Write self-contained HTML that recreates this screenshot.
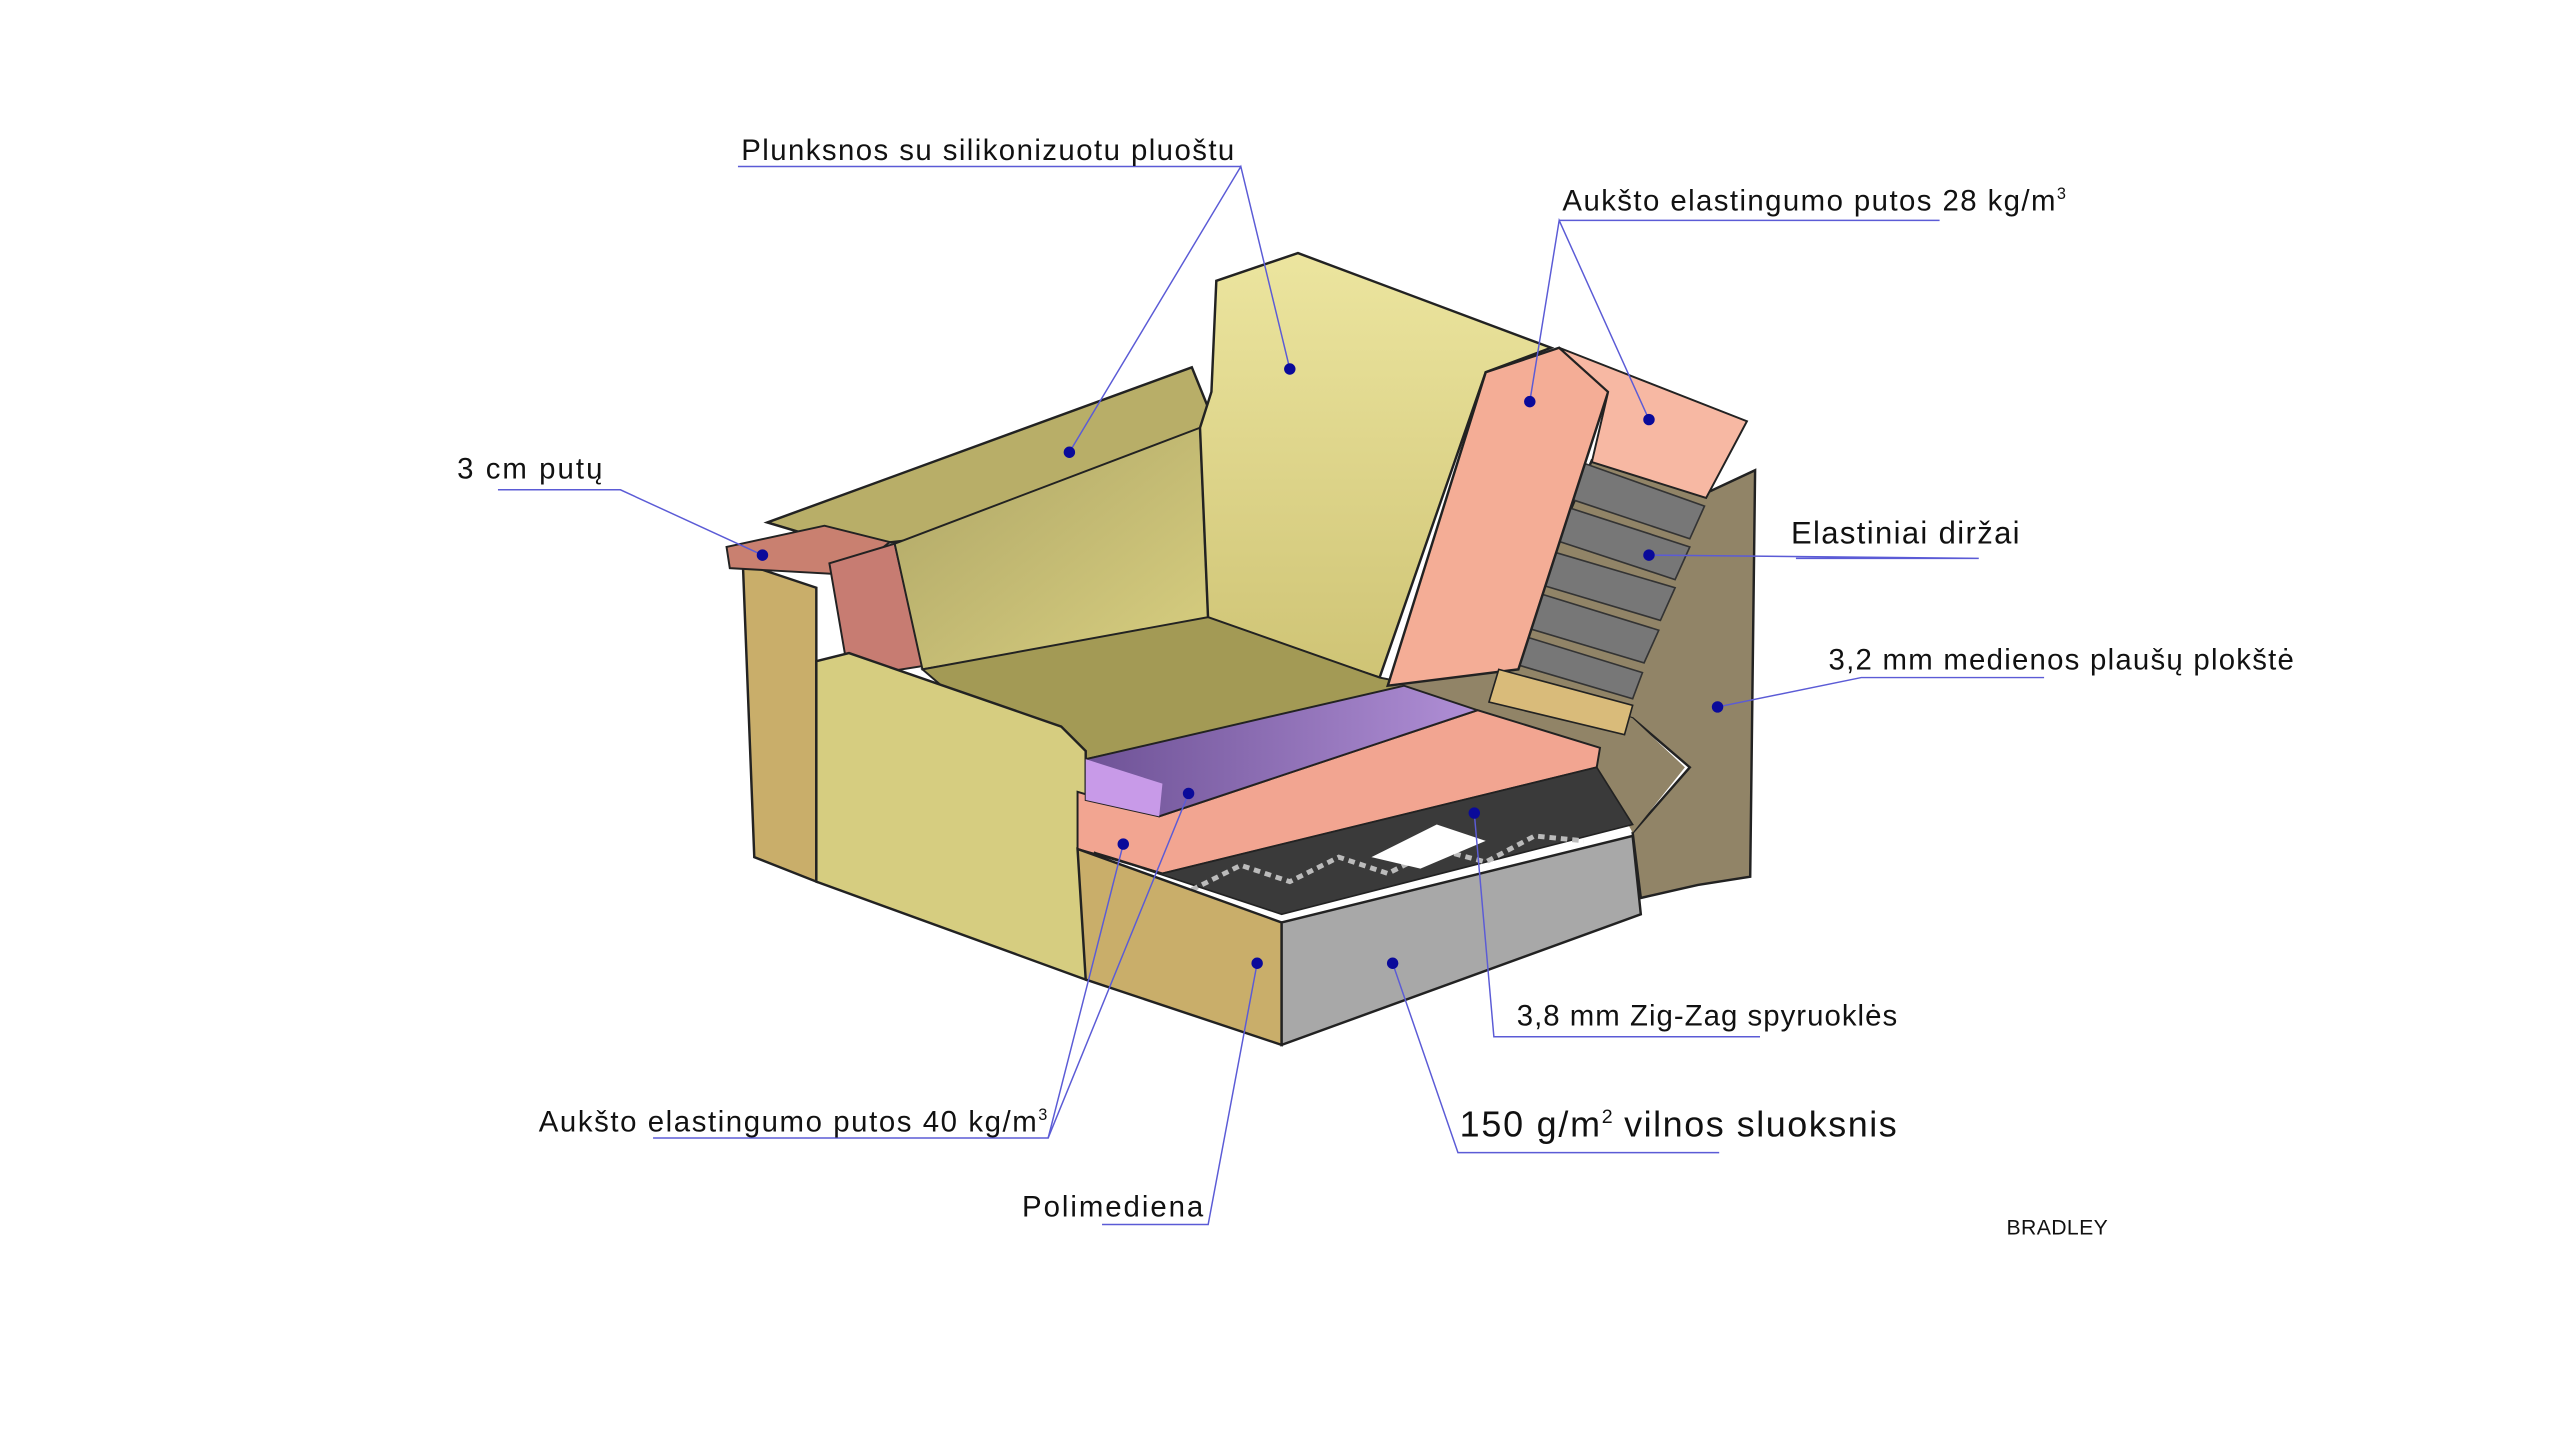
<!DOCTYPE html>
<html><head><meta charset="utf-8"><style>
html,body{margin:0;padding:0;background:#fff}
svg{display:block}
text{font-family:"Liberation Sans",sans-serif;fill:#111}
</style></head><body>
<svg width="2560" height="1440" viewBox="0 0 1568 882" xmlns="http://www.w3.org/2000/svg">
<defs>
<linearGradient id="yb" x1="0" y1="0" x2="0" y2="1"><stop offset="0" stop-color="#ece59f"/><stop offset="1" stop-color="#cfc475"/></linearGradient>
<linearGradient id="ys" x1="0" y1="0" x2="1" y2="1"><stop offset="0" stop-color="#aea566"/><stop offset="1" stop-color="#d8cf80"/></linearGradient>
<linearGradient id="pu" x1="0" y1="0" x2="1" y2="0"><stop offset="0" stop-color="#6e5296"/><stop offset="1" stop-color="#b08fd6"/></linearGradient>
</defs>
<polygon points="455,345 500,360 500,540 462,525" fill="#c9ae6a" stroke="#222" stroke-width="1.5"/>
<polygon points="470,320 730,225 745,262 565,330 520,335" fill="#b8ae68" stroke="#222" stroke-width="1.5"/>
<polygon points="445,335 505,322 545,332 520,352 447,348" fill="#c98070" stroke="#222" stroke-width="1.2"/>
<polygon points="508,345 548,333 565,408 520,415" fill="#c77c72" stroke="#222" stroke-width="1.2"/>
<polygon points="548,333 735,262 740,380 565,410" fill="url(#ys)" stroke="#222" stroke-width="1.2"/>
<polygon points="745,172 795,155 950,213 910,228 845,415 740,380 735,262 742,240" fill="url(#yb)" stroke="#222" stroke-width="1.5"/>
<polygon points="565,410 740,378 845,415 870,420 665,465 600,440" fill="#a39a55" stroke="#222" stroke-width="1.2"/>
<polygon points="500,405 520,400 650,445 665,460 665,600 500,540" fill="#d6cd80" stroke="#222" stroke-width="1.5"/>
<!-- board behind -->
<polygon points="975,282 1045,302 1075,288 1072,537 1040,542 1005,550 1000,510 1035,470 1000,440 918,415" fill="#918467" stroke="#222" stroke-width="1.5"/>
<polygon points="850,420 930,410 1000,440 1032,470 1000,510 978,470 905,435" fill="#918467"/>
<g fill="#777" stroke="#333" stroke-width="1">
<polygon points="968,283 1044,310 1035,330 960,305"/>
<polygon points="958,310 1035,335 1026,355 950,330"/>
<polygon points="948,337 1026,360 1017,380 940,357"/>
<polygon points="938,362 1016,386 1007,406 930,383"/>
<polygon points="928,388 1006,412 1000,428 922,405"/>
</g>
<polygon points="910,228 955,213 985,240 930,410 850,420" fill="#f4ad96" stroke="#222" stroke-width="1.5"/>
<polygon points="955,213 1070,258 1045,305 975,283 985,240" fill="#f7b8a3" stroke="#222" stroke-width="1.2"/>
<polygon points="918,410 1000,432 995,450 912,430" fill="#d9bb7a" stroke="#222" stroke-width="1"/>
<polygon points="660,485 710,500 905,435 980,458 978,470 712,535 660,520" fill="#f2a591" stroke="#222" stroke-width="1.2"/>
<polygon points="665,465 860,420 905,435 710,500 665,490" fill="url(#pu)" stroke="#222" stroke-width="1.2"/>
<polygon points="665,465 712,480 710,500 665,490" fill="#c89ae8"/>
<polygon points="680,525 712,535 978,470 1000,505 785,560 670,522" fill="#3a3a3a" stroke="#222" stroke-width="1"/>
<polyline points="730,545 760,530 790,540 820,525 850,535 880,520 910,528 940,512 970,515" fill="none" stroke="#bbb" stroke-width="3" stroke-dasharray="4 3"/>
<polygon points="840,525 880,505 910,515 870,532" fill="#fff"/>
<polygon points="660,520 785,565 785,640 665,600" fill="#c9ae6a" stroke="#222" stroke-width="1.5"/>
<polygon points="785,565 1000,512 1005,560 785,640" fill="#a8a8a8" stroke="#222" stroke-width="1.5"/>
<g fill="none" stroke="#5b5bd6" stroke-width="0.9">
<polyline points="655,277 760,102 790,226"/>
<polyline points="452,102 760,102"/>
<polyline points="937,246 955,135 1010,257"/>
<polyline points="955,135 1188,135"/>
<polyline points="467,340 380,300 305,300"/>
<polyline points="1010,340 1212,342 1100,342"/>
<polyline points="1052,433 1140,415 1252,415"/>
<polyline points="903,498 915,635 1078,635"/>
<polyline points="853,590 893,706 1053,706"/>
<polyline points="770,590 740,750 675,750"/>
<polyline points="688,517 642,697 400,697"/>
<polyline points="728,486 642,697"/>
</g>
<g fill="#0a0a9a">
<circle cx="655" cy="277" r="3.5"/><circle cx="790" cy="226" r="3.5"/><circle cx="937" cy="246" r="3.5"/><circle cx="1010" cy="257" r="3.5"/>
<circle cx="467" cy="340" r="3.5"/><circle cx="1010" cy="340" r="3.5"/><circle cx="1052" cy="433" r="3.5"/><circle cx="903" cy="498" r="3.5"/>
<circle cx="853" cy="590" r="3.5"/><circle cx="770" cy="590" r="3.5"/><circle cx="688" cy="517" r="3.5"/><circle cx="728" cy="486" r="3.5"/>
</g>
<text x="454" y="98" font-size="18" textLength="302">Plunksnos su silikonizuotu pluoštu</text>
<text x="957" y="129" font-size="18"><tspan textLength="302">Aukšto elastingumo putos 28 kg/m</tspan><tspan font-size="10" dy="-7">3</tspan></text>
<text x="280" y="293" font-size="18" textLength="89">3 cm putų</text>
<text x="1097" y="333" font-size="19" textLength="140">Elastiniai diržai</text>
<text x="1120" y="410" font-size="18" textLength="285">3,2 mm medienos plaušų plokštė</text>
<text x="929" y="628" font-size="18" textLength="233">3,8 mm Zig-Zag spyruoklės</text>
<text x="894" y="696" font-size="22"><tspan textLength="86">150 g/m</tspan><tspan font-size="12" dy="-8">2</tspan><tspan dy="8" textLength="174"> vilnos sluoksnis</tspan></text>
<text x="330" y="693" font-size="18"><tspan textLength="305">Aukšto elastingumo putos 40 kg/m</tspan><tspan font-size="10" dy="-7">3</tspan></text>
<text x="626" y="745" font-size="18" textLength="111">Polimediena</text>
<text x="1229" y="756" font-size="13" textLength="62">BRADLEY</text>
</svg>
</body></html>
